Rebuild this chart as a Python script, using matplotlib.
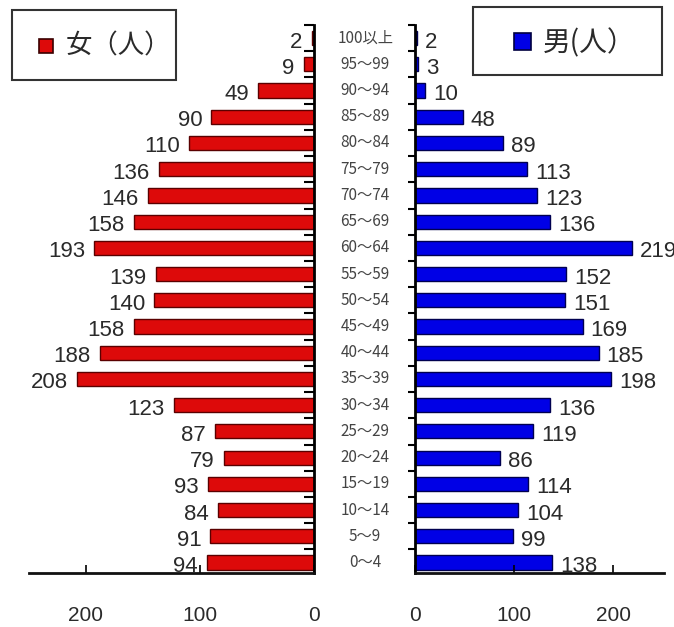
import matplotlib
matplotlib.use("Agg")
import matplotlib.pyplot as plt
from matplotlib.patches import Rectangle

# age groups, top to bottom
ages = ["100以上", "95～99", "90～94", "85～89", "80～84", "75～79", "70～74",
        "65～69", "60～64", "55～59", "50～54", "45～49", "40～44", "35～39",
        "30～34", "25～29", "20～24", "15～19", "10～14", "5～9", "0～4"]
female = [2, 9, 49, 90, 110, 136, 146, 158, 193, 139, 140, 158, 188, 208,
          123, 87, 79, 93, 84, 91, 94]
male = [2, 3, 10, 48, 89, 113, 123, 136, 219, 152, 151, 169, 185, 198,
        136, 119, 86, 114, 104, 99, 138]
female_name = "女（人）"
male_name = "男(人）"
left_ticks = [200, 100, 0]
right_ticks = [0, 100, 200]

red = "#dd0a0a"
blue = "#0000e6"
num_font = "Liberation Sans"
jp_font = ["Noto Sans CJK JP", "DejaVu Sans"]
txt_col = "#2a2a2a"

fig = plt.figure(figsize=(6.74, 6.27), dpi=100)
W, H = 674, 627
axL = fig.add_axes([29 / W, 1 - 573 / H, 285 / W, 548 / H])
axR = fig.add_axes([415 / W, 1 - 573 / H, 249 / W, 548 / H])

ypos = list(range(len(ages)))[::-1]

axL.barh(ypos, female, height=0.54, color=red, edgecolor="#5a0000", linewidth=1)
axR.barh(ypos, male, height=0.54, color=blue, edgecolor="#000050", linewidth=1)

axL.set_xlim(250, 0)
axR.set_xlim(0, 251)

# small ticks between the age groups
bounds = [i + 0.5 for i in range(len(ages))]
for ax in (axL, axR):
    ax.set_ylim(-0.4, 20.5)
    ax.spines["top"].set_visible(False)
    ax.spines["bottom"].set_linewidth(2)
    ax.spines["bottom"].set_color("#111111")
    ax.set_yticks(bounds)
    ax.set_yticklabels([])
    ax.tick_params(axis="x", direction="in", length=6, width=1.2, pad=24,
                   labelsize=15, labelcolor=txt_col)

axL.spines["left"].set_visible(False)
axL.spines["right"].set_linewidth(2)
axL.yaxis.tick_right()
axL.tick_params(axis="y", direction="in", length=7, width=1.5)
axR.spines["right"].set_visible(False)
axR.spines["left"].set_linewidth(2)
axR.tick_params(axis="y", direction="out", length=5, width=1.5)

axL.set_xticks(left_ticks)
axR.set_xticks(right_ticks)
for ax in (axL, axR):
    for lab in ax.get_xticklabels():
        lab.set_family(num_font)

# value labels
for yi, v in zip(ypos, female):
    axL.annotate(str(v), xy=(v, yi), xytext=(-9, -4), textcoords="offset pixels",
                 ha="right", va="center", fontsize=16, family=num_font, color=txt_col)
for yi, v in zip(ypos, male):
    axR.annotate(str(v), xy=(v, yi), xytext=(8, -4), textcoords="offset pixels",
                 ha="left", va="center", fontsize=16, family=num_font, color=txt_col)

# age group labels in the gap
for yi, a in zip(ypos, ages):
    axR.text(-0.2, yi, a, transform=axR.get_yaxis_transform(), ha="center",
             va="center", fontsize=11, family=jp_font, color="#444444")

# legend boxes
fig.add_artist(Rectangle((12 / W, 1 - 80 / H), 164 / W, 70 / H, transform=fig.transFigure,
                         fill=False, edgecolor="#333333", linewidth=1.5))
fig.add_artist(Rectangle((39 / W, 1 - 53 / H), 14 / W, 14 / H, transform=fig.transFigure,
                         facecolor=red, edgecolor="#3a0000", linewidth=1.2))
fig.text(66 / W, 1 - 46 / H, female_name, fontsize=19, family=jp_font,
         color=txt_col, va="center", ha="left")

fig.add_artist(Rectangle((473 / W, 1 - 75 / H), 189 / W, 68 / H, transform=fig.transFigure,
                         fill=False, edgecolor="#333333", linewidth=1.5))
fig.add_artist(Rectangle((514 / W, 1 - 50 / H), 17 / W, 17 / H, transform=fig.transFigure,
                         facecolor=blue, edgecolor="#000040", linewidth=1.2))
fig.text(543 / W, 1 - 43 / H, male_name, fontsize=20, family=jp_font,
         color=txt_col, va="center", ha="left")

fig.savefig("out.png", dpi=100)
